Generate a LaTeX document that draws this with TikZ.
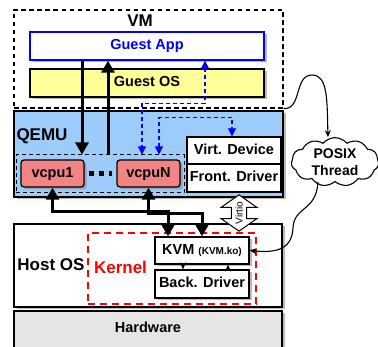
\documentclass[tikz,border=0pt]{standalone}
\usepackage{fontspec}
\setmainfont{Liberation Sans}
\usetikzlibrary{arrows.meta,shadows,shapes.arrows,shapes.symbols,positioning}

\definecolor{qemublue}{RGB}{158,204,250}
\definecolor{osyellow}{RGB}{255,255,153}
\definecolor{cpupink}{RGB}{242,132,132}
\definecolor{hwgray}{RGB}{229,229,229}

\tikzset{
  layer/.style={draw, line width=1.3pt, inner sep=0pt, text height=0.72em, text depth=0pt,
    font=\bfseries\fontsize{14.5}{16}\selectfont},
  shade/.style={drop shadow={shadow xshift=2.5pt, shadow yshift=-2.5pt, fill=black!45, opacity=0.6}},
  cpu/.style={layer, shade, rounded corners=3pt, fill=cpupink, minimum width=63, minimum height=27},
  sectlabel/.style={inner sep=0pt, text height=0.72em, text depth=0pt, font=\bfseries\fontsize{17}{19}\selectfont},
  vmframe/.style={draw, line width=1.1pt, dash pattern=on 4.5pt off 3.5pt, inner sep=0pt},
  cpuframe/.style={draw, line width=1pt, dash pattern=on 4pt off 3pt, inner sep=0pt},
  kernelframe/.style={draw=red, line width=2pt, dash pattern=on 7pt off 5pt, inner sep=0pt},
  bigarrow/.style={line width=3pt, -{Triangle[length=12pt,width=13pt]}},
  bothbig/.style={line width=3pt, {Triangle[length=12pt,width=13pt]}-{Triangle[length=12pt,width=13pt]}},
  bluearrow/.style={draw=blue, line width=1.1pt, dash pattern=on 4pt off 3pt,
    {Triangle[length=8pt,width=8pt]}-{Triangle[length=8pt,width=8pt]}},
  thinarrow/.style={line width=1.1pt, -{Stealth[length=7pt,width=6pt]}},
}

\begin{document}
\begin{tikzpicture}[x=1pt, y=-1pt]
  \useasboundingbox (0,0) rectangle (378,347);

  % guest side
  \node[vmframe, minimum width=269, minimum height=98] (vm) at (148.5,59) {};
  \node[sectlabel] (vmlabel) at (140,23) {VM};
  \node[layer, shade, draw=blue, text=blue, fill=white, minimum width=234, minimum height=28] (app) at (147,46) {Guest App};
  \node[layer, shade, fill=osyellow, minimum width=234, minimum height=28] (guestos) at (147,83) {Guest OS};

  % qemu process
  \node[layer, shade, fill=qemublue, minimum width=269, minimum height=86] (qemu) at (148.5,154) {};
  \node[sectlabel] (qemulabel) at (42,137) {QEMU};
  \node[cpuframe, minimum width=168, minimum height=38] (vcpus) at (100,174) {};
  \node[cpu] (vcpu1) at (52.5,173.5) {vcpu1};
  \node[cpu] (vcpuN) at (148.5,173.5) {vcpuN};
  \draw[line width=5pt, dash pattern=on 5pt off 5pt, shorten <=4pt, shorten >=4pt] (vcpu1) -- (vcpuN);
  \node[layer, fill=white, minimum width=94, minimum height=27] (virtdev) at (234,150.5) {Virt. Device};
  \node[layer, fill=white, minimum width=94, minimum height=28] (frontdrv) at (234,178) {Front. Driver};

  % host side
  \node[layer, shade, fill=hwgray, minimum width=268, minimum height=42] (hw) at (148,332) {};
  \node[layer, draw=none, fill=none] (hwlabel) at (148,329) {Hardware};
  \node[layer, shade, fill=white, minimum width=268, minimum height=83] (host) at (148,265.5) {};
  \node[sectlabel] (hostlabel) at (51,267) {Host OS};
  \node[kernelframe, minimum width=168, minimum height=71] (kernel) at (172,268.5) {};
  \node[sectlabel, text=red] (kernellabel) at (120.5,270) {Kernel};
  \node[layer, shade, fill=white, minimum width=94, minimum height=27] (kvm) at (202,250.5)
    {KVM {\fontsize{10}{12}\selectfont(KVM.ko)}};
  \node[layer, shade, fill=white, minimum width=94, minimum height=28] (back) at (202,284) {Back. Driver};

  % posix thread
  \node[cloud, draw, fill=white, line width=1.1pt, cloud puffs=11, cloud puff arc=100, aspect=2.2,
    inner xsep=7pt, inner ysep=-2pt, align=center,
    font=\bfseries\fontsize{14}{17}\selectfont] (posix) at (335,162) {POSIX\\Thread};

  % guest <-> vcpu
  \draw[bigarrow] ([xshift=-65pt]app.south) -- ([xshift=-65pt]app.south |- vcpus.north);
  \draw[bigarrow] ([xshift=-39pt]app.south |- vcpus.north) -- ([xshift=-39pt]app.south);
  \draw[bluearrow] ([xshift=58pt]app.south) -- ++(0,43) -| ([xshift=-6.5pt]vcpuN.north |- vcpus.north);
  \draw[bluearrow] ([xshift=10.5pt]vcpuN.north |- vcpus.north) -- ++(0,-37) -| ([xshift=-2pt]virtdev.north);

  % vcpu <-> kvm
  \draw[bothbig] (vcpu1.south) -- ++(0,24) -| ([xshift=-34pt]kvm.north);
  \draw[bothbig] (vcpuN.south) -- ++(0,26) -| (kvm.north);

  \node[double arrow, draw, fill=white, line width=1pt, rotate=90, inner sep=1pt,
    double arrow head extend=7pt, double arrow tip angle=110, minimum height=28, minimum width=36,
    font=\fontsize{10}{11}\selectfont] (virtio) at (239,213) {Virtio};

  \draw[thinarrow] ([xshift=-19pt]kvm.south) -- ([xshift=-19pt]back.north);
  \draw[thinarrow] ([xshift=26pt]back.north) -- ([xshift=26pt]kvm.south);

  % thread curves
  \draw[thinarrow] (vm.south east) .. controls (302,110) and (294,75) .. (312,75)
    .. controls (328,75) and (327,100) .. ([xshift=-7pt]posix.north);
  \draw[thinarrow] ([xshift=-17pt]posix.south) .. controls (316,212) and (294,206) .. (293,228)
    .. controls (292,250) and (275,253) .. (kvm.east);
\end{tikzpicture}
\end{document}
